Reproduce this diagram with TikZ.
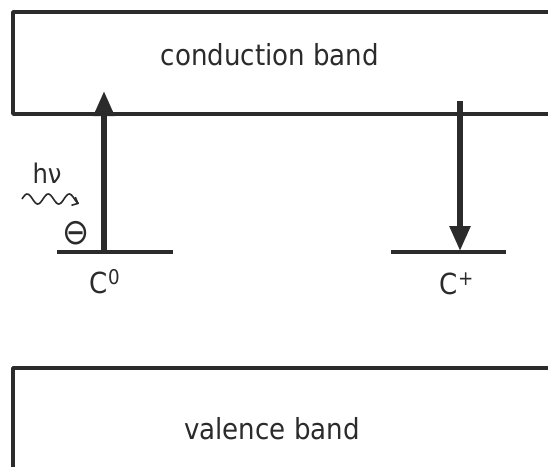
\documentclass[tikz,border=0pt]{standalone}
\usepackage{fontspec}
\setmainfont{DejaVu Sans Condensed}
\usetikzlibrary{arrows.meta}
\definecolor{ink}{HTML}{2B2B2B}
\tikzset{
  band/.style={draw=ink, line width=3.5pt, line join=round},
  level/.style={draw=ink, line width=4pt},
  trans/.style={draw=ink, line width=5.5pt, -{Triangle[width=20pt,length=25pt]}},
  lbl/.style={text=ink, inner sep=0pt, font=\fontsize{29}{34}\selectfont},
}
\begin{document}
\begin{tikzpicture}[x=1pt,y=-1pt]
\useasboundingbox (0,0) rectangle (548,466);
% conduction band (open on the right)
\draw[band] (560,12) -- (13,12) -- (13,114) -- (560,114);
\node[lbl] (cb) at (270,55) {conduction band};
% valence band
\draw[band] (560,368) -- (13,368) -- (13,480);
\node[lbl] (vb) at (272,429) {valence band};
% levels
\coordinate (c0l) at (57,252); \coordinate (c0r) at (173,252);
\coordinate (cpl) at (391,252); \coordinate (cpr) at (506,252);
\draw[level] (c0l) -- (c0r);
\draw[level] (cpl) -- (cpr);
\node[lbl] (c0) at (105,282) {C\textsuperscript{0}};
\node[lbl] (cp) at (457,284) {C\textsuperscript{+}};
% transitions
\coordinate (a0) at (104,250); \coordinate (a1) at (104,91);
\coordinate (b0) at (460,101); \coordinate (b1) at (460,251);
\draw[trans] (a0) -- (a1);
\draw[trans] (b0) -- (b1);
% photon
\node[lbl, font=\fontsize{27}{30}\selectfont] (hv) at (47,173) {hν};
\coordinate (w0) at (22,199);
\draw[ink, line width=1.6pt, -{Straight Barb[length=5pt,width=9pt]}]
  plot[domain=0:57, samples=60, smooth] ({22+\x},{199-5*sin(\x/21*360)});
\node[lbl, font=\fontsize{36}{40}\selectfont] (minus) at (76,233) {⊖};
\end{tikzpicture}
\end{document}
